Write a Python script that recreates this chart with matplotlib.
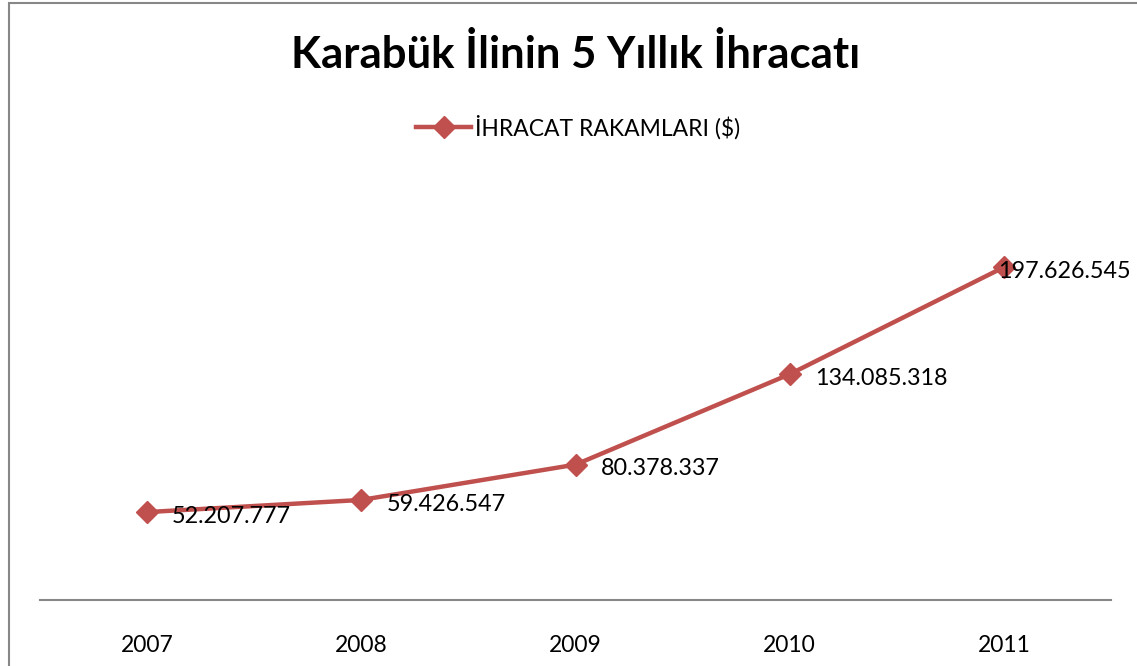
import matplotlib.pyplot as plt
from matplotlib.lines import Line2D
from matplotlib.patches import Rectangle

years = ["2007", "2008", "2009", "2010", "2011"]
exports = [52207777, 59426547, 80378337, 134085318, 197626545]
value_labels = ["52.207.777", "59.426.547", "80.378.337", "134.085.318", "197.626.545"]

W, H = 1137, 666
fig = plt.figure(figsize=(W / 100, H / 100), dpi=100)
plt.rcParams['font.family'] = ['Lato', 'DejaVu Sans']

# outer chart frame (only left and top visible in the reference)
fig.patches.append(Rectangle((9 / W, -0.1), 1.2, (H - 3) / H + 0.1, transform=fig.transFigure,
                             fill=False, edgecolor="#878787", linewidth=1.5))

ax = fig.add_axes([40 / W, 66 / H, (1111 - 40) / W, (600 - 179) / H])
x = list(range(len(years)))
line_color = "#C0504D"
ax.plot(x, exports, color=line_color, linewidth=3.2, marker="D", markersize=11.5,
        label="İHRACAT RAKAMLARI ($)", solid_capstyle="round")

ax.set_xlim(-0.5, 4.5)
ax.set_ylim(0, 250e6)
ax.set_xticks(x)
ax.set_xticklabels(years, fontsize=16.5)
ax.tick_params(axis="x", length=0, pad=25)
ax.set_yticks([])
for s in ["top", "left", "right"]:
    ax.spines[s].set_visible(False)
ax.spines["bottom"].set_color("#878787")
ax.spines["bottom"].set_linewidth(1.5)

# data labels to the right of each marker; last one pulled in to fit the chart
offsets = [18, 18, 18, 18, -4]
for xi, yi, lab, off in zip(x, exports, value_labels, offsets):
    ax.annotate(lab, (xi, yi), xytext=(off, -3), textcoords="offset points",
                ha="left", va="center", fontsize=16.8)

fig.text(576 / W, 1 - 55 / H, "Karabük İlinin 5 Yıllık İhracatı", ha="center", va="center",
         fontsize=31.5, fontweight="bold")

handle = Line2D([], [], color=line_color, linewidth=3.2, marker="D", markersize=11.5)
fig.legend([handle], ["İHRACAT RAKAMLARI ($)"], loc="center", bbox_to_anchor=(578 / W, 1 - 127 / H),
           frameon=False, fontsize=16.5, handlelength=2.4, handletextpad=0.15)

fig.savefig("out.png", dpi=100)
